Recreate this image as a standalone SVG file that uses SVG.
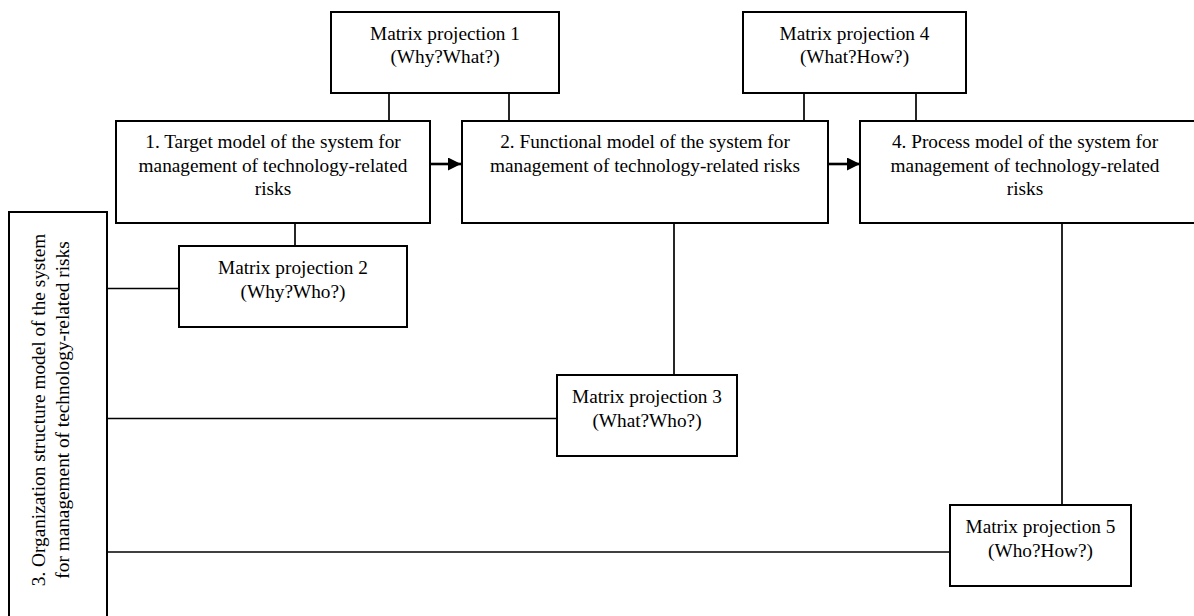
<svg xmlns="http://www.w3.org/2000/svg" width="1194" height="616" viewBox="0 0 1194 616">
<style>
.box{fill:#fff;stroke:#000;stroke-width:2}
.ln{stroke:#000;stroke-width:1.7;fill:none}
.ar{stroke:#000;stroke-width:2.6;fill:none}
text{font-family:"Liberation Serif","Times New Roman",serif;font-size:19.3px;fill:#000;text-anchor:middle}
</style>
<defs>
<marker id="ah" markerWidth="13" markerHeight="13" refX="13" refY="6.5" orient="auto" markerUnits="userSpaceOnUse">
<path d="M0,0 L13,6.5 L0,13 Z" fill="#000"/>
</marker>
</defs>
<rect width="1194" height="616" fill="#fff"/>
<g id="connectors">
<line class="ln" x1="389" y1="93" x2="389" y2="121"/>
<line class="ln" x1="509" y1="93" x2="509" y2="121"/>
<line class="ln" x1="804" y1="93" x2="804" y2="121"/>
<line class="ln" x1="916" y1="93" x2="916" y2="121"/>
<line class="ln" x1="295" y1="223" x2="295" y2="246"/>
<line class="ln" x1="674" y1="223" x2="674" y2="375"/>
<line class="ln" x1="1062" y1="223" x2="1062" y2="505"/>
<line class="ln" x1="107" y1="288.5" x2="179" y2="288.5"/>
<line class="ln" x1="107" y1="418.5" x2="557" y2="418.5"/>
<line class="ln" x1="107" y1="552" x2="950" y2="552"/>
<line class="ar" x1="430" y1="164" x2="461" y2="164" marker-end="url(#ah)"/>
<line class="ar" x1="828" y1="164" x2="860" y2="164" marker-end="url(#ah)"/>
</g>
<g id="mp1">
<rect class="box" x="331" y="12" width="228" height="81"/>
<text x="445" y="40">Matrix projection 1</text>
<text x="445" y="63">(Why?What?)</text>
</g>
<g id="mp4">
<rect class="box" x="743" y="12" width="223" height="81"/>
<text x="854.5" y="40">Matrix projection 4</text>
<text x="854.5" y="63">(What?How?)</text>
</g>
<g id="model1">
<rect class="box" x="116" y="121" width="314" height="102"/>
<text x="273" y="148">1. Target model of the system for</text>
<text x="273" y="171.5">management of technology-related</text>
<text x="273" y="195">risks</text>
</g>
<g id="model2">
<rect class="box" x="462" y="121" width="366" height="102"/>
<text x="645" y="148">2. Functional model of the system for</text>
<text x="645" y="171.5">management of technology-related risks</text>
</g>
<g id="model4">
<rect class="box" x="860" y="121" width="340" height="102"/>
<text x="1025" y="148">4. Process model of the system for</text>
<text x="1025" y="171.5">management of technology-related</text>
<text x="1025" y="195">risks</text>
</g>
<g id="mp2">
<rect class="box" x="179" y="246" width="228" height="81"/>
<text x="293" y="274">Matrix projection 2</text>
<text x="293" y="297.5">(Why?Who?)</text>
</g>
<g id="mp3">
<rect class="box" x="557" y="375" width="180" height="81"/>
<text x="647" y="403">Matrix projection 3</text>
<text x="647" y="426.5">(What?Who?)</text>
</g>
<g id="mp5">
<rect class="box" x="950" y="505" width="181" height="81"/>
<text x="1040.5" y="533">Matrix projection 5</text>
<text x="1040.5" y="556.5">(Who?How?)</text>
</g>
<g id="model3">
<rect class="box" x="9" y="212" width="98" height="410"/>
<text transform="translate(45,410) rotate(-90)">3. Organization structure model of the system</text>
<text transform="translate(68.5,410) rotate(-90)">for management of technology-related risks</text>
</g>
</svg>
